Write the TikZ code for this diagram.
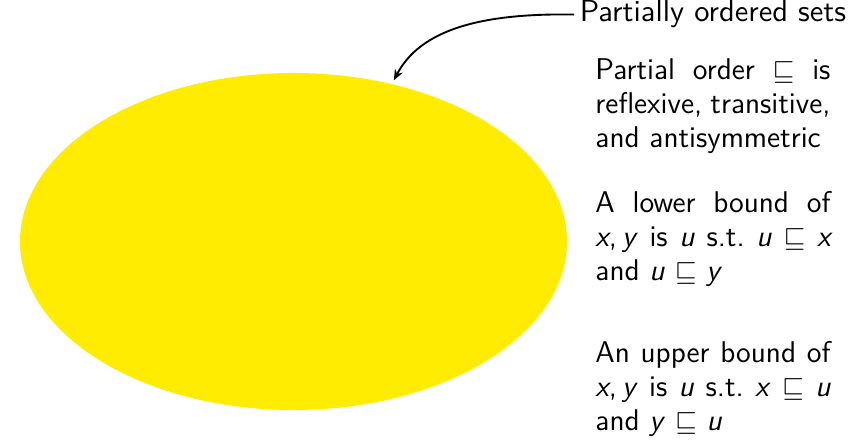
\documentclass[tikz,border=0pt]{standalone}
\usepackage{amssymb}
\usepackage{xcolor}
\usepackage{tikz}
\usetikzlibrary{positioning,arrows.meta,shapes.geometric}

\definecolor{posetyellow}{RGB}{255,236,0}
\newcommand{\mv}[1]{\textit{#1}}

\begin{document}
\begin{tikzpicture}[x=0.015cm,y=-0.015cm,
  blob/.style={ellipse,fill=posetyellow,inner sep=0pt,minimum width=8.205cm,minimum height=5.055cm},
  note/.style={text width=3.525cm,align=justify,inner sep=0pt,anchor=base west,font=\sffamily\fontsize{12.8}{14.4}\selectfont},
  lbl/.style={scale=1.3,inner xsep=0.06cm,inner ysep=0pt,anchor=base west,font=\sffamily\fontsize{10}{12}\selectfont},
  arr/.style={-{Stealth[length=0.16cm,width=0.13cm]},line width=0.8pt}]
  \useasboundingbox (0,0) rectangle (856,443);
  \node[blob](poset) at (293.5,241.5) {};
  \node[lbl](posets) at (574,22) {Partially ordered sets};
  \node[note](order) at (595,80) {Partial order $\sqsubseteq$ is reflexive, transitive, and antisymmetric};
  \node[note](lower) at (595,213) {A lower bound of \mv{x},\,\mv{y} is \mv{u} s.t.\ \mv{u} $\sqsubseteq$ \mv{x} and \mv{u} $\sqsubseteq$ \mv{y}};
  \node[note](upper) at (595,363) {An upper bound of \mv{x},\,\mv{y} is \mv{u} s.t.\ \mv{x} $\sqsubseteq$ \mv{u} and \mv{y} $\sqsubseteq$ \mv{u}};
  \draw[arr,shorten >=0.06cm](posets.west) .. controls (480,13) and (420,30) .. (poset.58);
\end{tikzpicture}
\end{document}
